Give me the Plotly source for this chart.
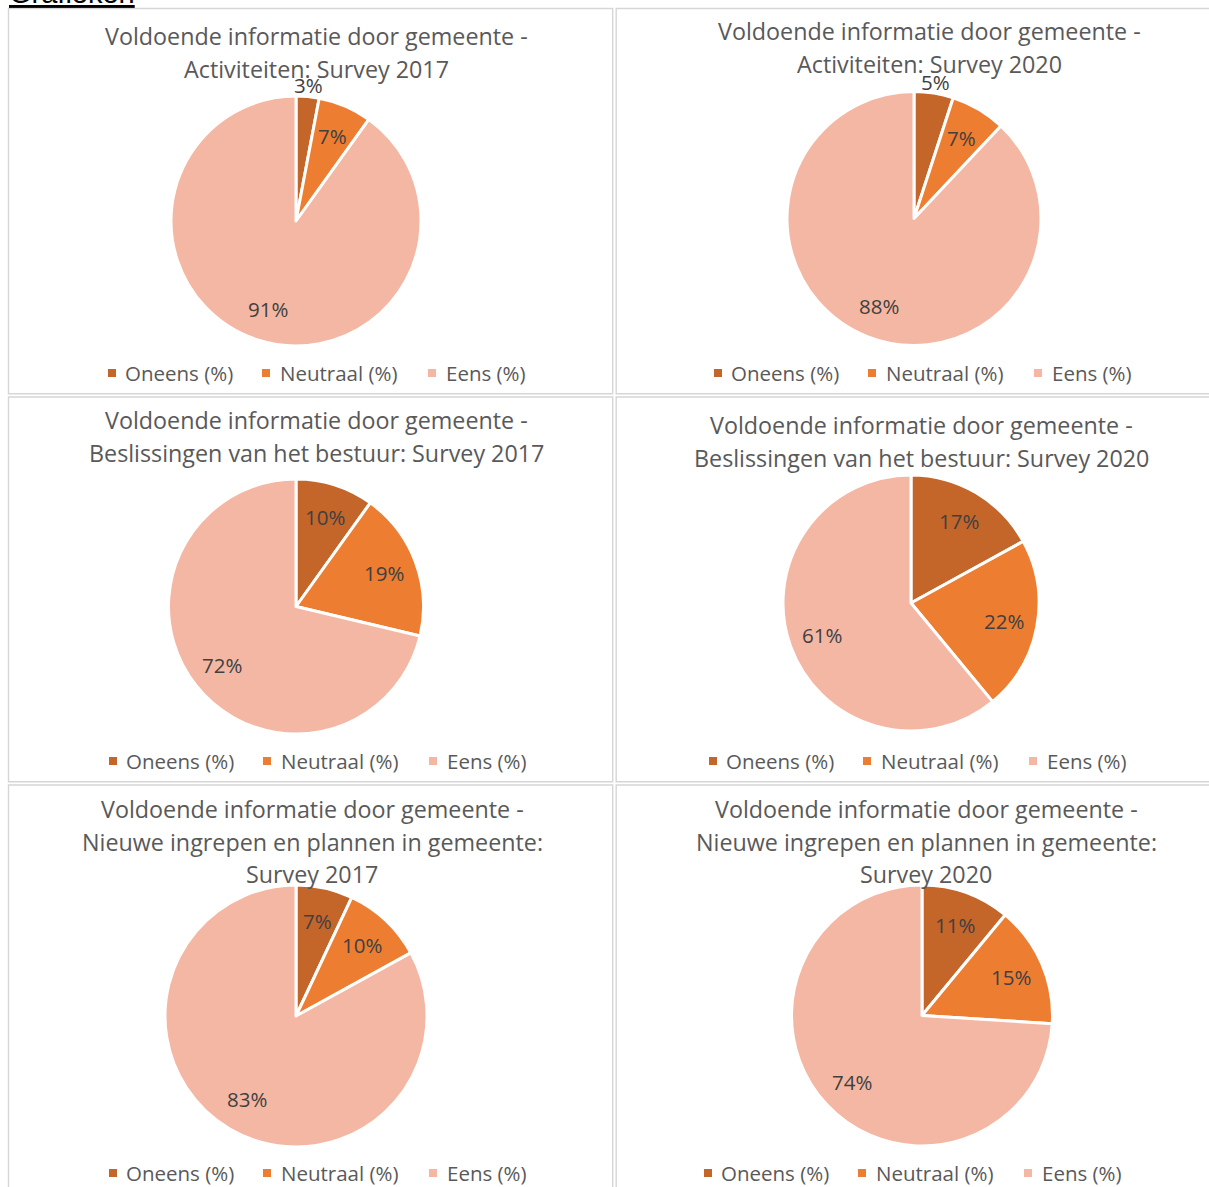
import math
import plotly.graph_objects as go

W, H = 1209, 1187

# Answer categories (same for every chart)
categories = ["Oneens (%)", "Neutraal (%)", "Eens (%)"]
colors = ["#C4652A", "#ED7D31", "#F4B7A4"]

# Survey results per topic and year (percent)
act_2017 = [3, 7, 91]
act_2020 = [5, 7, 88]
besl_2017 = [10, 19, 72]
besl_2020 = [17, 22, 61]
nieuw_2017 = [7, 10, 83]
nieuw_2020 = [11, 15, 74]

# Chart titles, one entry per line
title_act_2017 = ["Voldoende informatie door gemeente -", "Activiteiten: Survey 2017"]
title_act_2020 = ["Voldoende informatie door gemeente -", "Activiteiten: Survey 2020"]
title_besl_2017 = ["Voldoende informatie door gemeente -", "Beslissingen van het bestuur: Survey 2017"]
title_besl_2020 = ["Voldoende informatie door gemeente -", "Beslissingen van het bestuur: Survey 2020"]
title_nieuw_2017 = ["Voldoende informatie door gemeente -", "Nieuwe ingrepen en plannen in gemeente:", "Survey 2017"]
title_nieuw_2020 = ["Voldoende informatie door gemeente -", "Nieuwe ingrepen en plannen in gemeente:", "Survey 2020"]

FONT = "Open Sans"
TITLE_COLOR = "#595959"
LABEL_COLOR = "#404040"
GRID_COLOR = "#D6D6D6"

# Layout of each chart panel: pie centre / radius, title, legend placement (pixels)
panels = [
    dict(values=act_2017, title=title_act_2017, cx=296, cy=221, r=125,
         tx=317, ty=36, lx=108, ly=373),
    dict(values=act_2020, title=title_act_2020, cx=914, cy=218.5, r=127,
         tx=929, ty=31, lx=714, ly=373),
    dict(values=besl_2017, title=title_besl_2017, cx=296, cy=606.5, r=127.5,
         tx=317, ty=420, lx=109, ly=761),
    dict(values=besl_2020, title=title_besl_2020, cx=911, cy=603, r=128,
         tx=921, ty=425, lx=709, ly=761),
    dict(values=nieuw_2017, title=title_nieuw_2017, cx=296, cy=1016, r=131,
         tx=312, ty=809, lx=109, ly=1173),
    dict(values=nieuw_2020, title=title_nieuw_2020, cx=922, cy=1015.5, r=130.5,
         tx=926, ty=809, lx=704, ly=1173),
]

# Legend item offsets from the legend's left edge: swatch start, text start
legend_swatch_dx = [0, 154, 320]
legend_text_dx = [15, 170, 336]
SWATCH = 8
TITLE_LINE_GAP = 32.6

# Table cell frames around the charts
col_edges = [(8.5, 612.7), (616.2, 1220)]
row_edges = [(8.5, 393.8), (397, 781.8), (785, 1200)]


def px(x):
    return x / W


def py(y):
    return 1 - y / H


fig = go.Figure()
annotations = []
shapes = []

for x0, x1 in col_edges:
    for y0, y1 in row_edges:
        shapes.append(dict(type="rect", xref="paper", yref="paper",
                           x0=px(x0), x1=px(x1), y0=py(y1), y1=py(y0),
                           line=dict(color=GRID_COLOR, width=1.4),
                           fillcolor="rgba(0,0,0,0)", layer="below"))

for i, p in enumerate(panels):
    cx, cy, r = p["cx"], p["cy"], p["r"]
    fig.add_trace(go.Pie(
        labels=categories,
        values=p["values"],
        marker=dict(colors=colors, line=dict(color="white", width=3)),
        sort=False,
        direction="clockwise",
        rotation=0,
        textinfo="none",
        hoverinfo="label+value",
        domain=dict(x=[px(cx - r), px(cx + r)], y=[py(cy + r), py(cy - r)]),
        showlegend=False,
    ))

    # Title lines
    for j, line in enumerate(p["title"]):
        annotations.append(dict(
            text=line, x=px(p["tx"]), y=py(p["ty"] + j * TITLE_LINE_GAP),
            xref="paper", yref="paper", xanchor="center", yanchor="middle",
            showarrow=False, font=dict(family=FONT, size=23.3, color=TITLE_COLOR),
        ))

    # Percentage labels along each slice's mid angle
    total = sum(p["values"])
    cum = 0
    for v in p["values"]:
        mid = (cum + v / 2) / total * 2 * math.pi
        cum += v
        frac = 1.09 if v / total < 0.06 else 0.74
        lx = cx + math.sin(mid) * r * frac
        ly = cy - math.cos(mid) * r * frac
        annotations.append(dict(
            text=f"{v}%", x=px(lx), y=py(ly), xref="paper", yref="paper",
            xanchor="center", yanchor="middle", showarrow=False,
            font=dict(family=FONT, size=20.5, color=LABEL_COLOR),
        ))

    # Legend: coloured swatch followed by category name
    for k, name in enumerate(categories):
        sx = p["lx"] + legend_swatch_dx[k]
        shapes.append(dict(
            type="rect", xref="paper", yref="paper",
            x0=px(sx), x1=px(sx + SWATCH),
            y0=py(p["ly"] + SWATCH / 2), y1=py(p["ly"] - SWATCH / 2),
            line=dict(width=0), fillcolor=colors[k],
        ))
        annotations.append(dict(
            text=name, x=px(p["lx"] + legend_text_dx[k]), y=py(p["ly"]),
            xref="paper", yref="paper", xanchor="left", yanchor="middle",
            showarrow=False, font=dict(family=FONT, size=20.5, color=TITLE_COLOR),
        ))

# Section heading above the table
annotations.append(dict(
    text="<u>Grafieken</u>", x=px(7), y=py(11), xref="paper", yref="paper",
    xanchor="left", yanchor="bottom", showarrow=False,
    font=dict(family="Liberation Sans", size=29, color="#000000"),
))

fig.update_layout(
    width=W, height=H,
    margin=dict(l=0, r=0, t=0, b=0),
    paper_bgcolor="white", plot_bgcolor="white",
    annotations=annotations, shapes=shapes,
)

fig.write_html("out.html")
